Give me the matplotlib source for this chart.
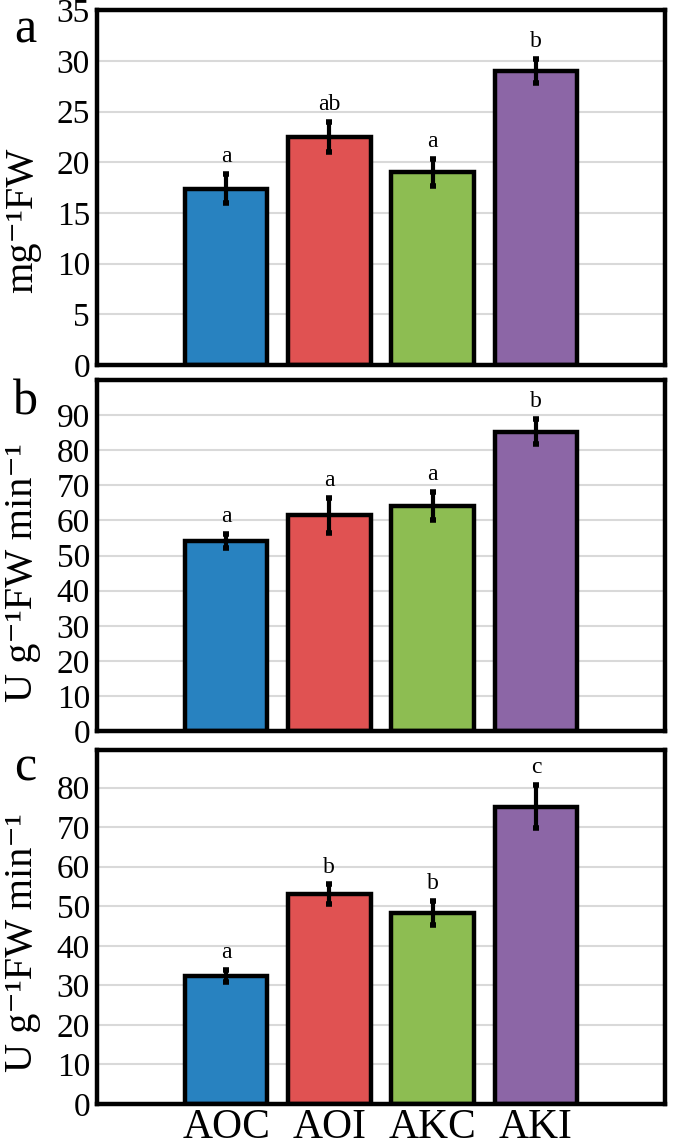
import numpy as np
import matplotlib.pyplot as plt

plt.rcParams['font.family'] = ['Liberation Serif', 'DejaVu Serif']

# treatments
groups = ['AOC', 'AOI', 'AKC', 'AKI']
colors = ['#2882C0', '#E05252', '#8DBD52', '#8C66A6']

# panel a
a_mean = [17.4, 22.5, 19.0, 29.0]
a_err = [1.45, 1.5, 1.3, 1.2]
a_sig = ['a', 'ab', 'a', 'b']

# panel b
b_mean = [54.2, 61.5, 64.2, 85.3]
b_err = [2.0, 5.0, 4.0, 3.6]
b_sig = ['a', 'a', 'a', 'b']

# panel c
c_mean = [32.3, 53.0, 48.3, 75.2]
c_err = [1.5, 2.5, 3.0, 5.5]
c_sig = ['a', 'b', 'b', 'c']

panels = [
    # mean, err, sig, ylim top, ticks, ylabel, letter, axes rect, label y, letter y
    (a_mean, a_err, a_sig, 35, np.arange(0, 36, 5), 'mg\u207b\u00b9FW', 'a',
     [0.1437, 0.6820, 0.8415, 0.3092], 0.808, 0.974),
    (b_mean, b_err, b_sig, 100, np.arange(0, 91, 10), 'U g\u207b\u00b9FW min\u207b\u00b9', 'b',
     [0.1437, 0.3632, 0.8415, 0.3057], 0.501, 0.650),
    (c_mean, c_err, c_sig, 89.5, np.arange(0, 81, 10), 'U g\u207b\u00b9FW min\u207b\u00b9', 'c',
     [0.1437, 0.0383, 0.8415, 0.3084], 0.179, 0.331),
]

fig = plt.figure(figsize=(6.75, 11.48), dpi=100)
x = np.arange(len(groups))

for mean, err, sig, top, ticks, ylab, letter, rect, ly, lety in panels:
    ax = fig.add_axes(rect)
    ax.bar(x, mean, width=0.8, color=colors, edgecolor='black', linewidth=3.2,
           zorder=3)
    ax.errorbar(x, mean, yerr=err, fmt='none', ecolor='black', elinewidth=3,
                capsize=2.5, capthick=4, zorder=4)
    for xi, m, e, s in zip(x, mean, err, sig):
        ax.annotate(s, (xi, m + e), xytext=(0, 5), textcoords='offset points',
                    ha='center', va='bottom', fontsize=17)
    ax.set_xlim(-1.25, 4.25)
    ax.set_ylim(0, top)
    ax.set_yticks(ticks)
    ax.yaxis.grid(True, color='#D9D9D9', linewidth=1.5, zorder=0)
    ax.set_axisbelow(True)
    ax.tick_params(axis='y', length=0, labelsize=24, pad=5)
    for sp in ax.spines.values():
        sp.set_linewidth(3.2)
        sp.set_color('black')
        sp.set_zorder(5)
    if letter == 'c':
        ax.set_xticks(x)
        ax.set_xticklabels(groups, fontsize=30)
        ax.tick_params(axis='x', length=0, pad=3)
    else:
        ax.set_xticks([])
    fig.text(0.034, ly, ylab, rotation=90, ha='center', va='center', fontsize=29)
    fig.text(0.038, lety, letter, ha='center', va='center', fontsize=36)

fig.savefig('out.png', dpi=100)
